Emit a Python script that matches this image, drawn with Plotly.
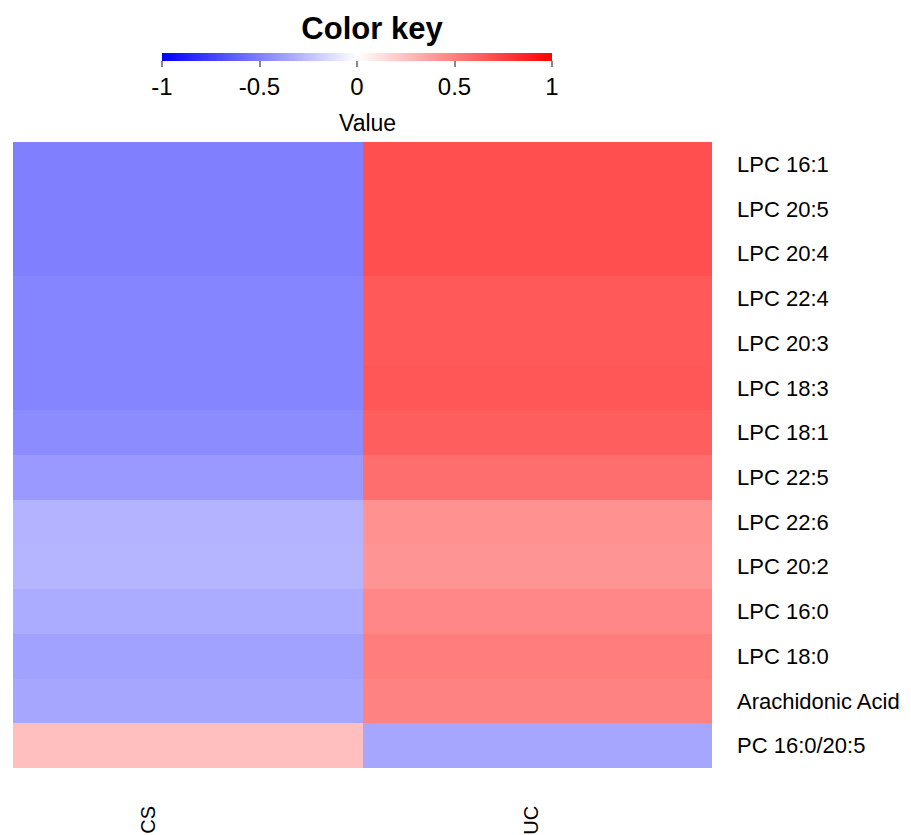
import plotly.graph_objects as go

rows = ["LPC 16:1", "LPC 20:5", "LPC 20:4", "LPC 22:4", "LPC 20:3", "LPC 18:3",
        "LPC 18:1", "LPC 22:5", "LPC 22:6", "LPC 20:2", "LPC 16:0", "LPC 18:0",
        "Arachidonic Acid", "PC 16:0/20:5"]
cols = ["CS", "UC"]
cs_vals = [-0.50, -0.50, -0.50, -0.48, -0.48, -0.48, -0.45, -0.40, -0.30, -0.29,
           -0.33, -0.37, -0.35, 0.25]
uc_vals = [0.69, 0.69, 0.69, 0.65, 0.65, 0.66, 0.63, 0.57, 0.43, 0.42,
           0.47, 0.51, 0.49, -0.35]
key_ticks = [-1, -0.5, 0, 0.5, 1]
key_labels = ["-1", "-0.5", "0", "0.5", "1"]

z = [[c, u] for c, u in zip(cs_vals, uc_vals)]

# page body adds an 8px margin around the figure
W, H = 903, 827
L, R, T, B = 5, 199, 134, 67
PW = W - L - R
FONT = "Liberation Sans, Arial, sans-serif"

fig = go.Figure(go.Heatmap(
    z=z, x=cols, y=rows,
    zmin=-1, zmax=1,
    colorscale=[[0, "rgb(0,0,255)"], [0.5, "rgb(255,255,255)"], [1, "rgb(255,0,0)"]],
    xgap=0, ygap=0,
    colorbar=dict(
        orientation="h",
        xref="container", yref="container",
        x=349 / PW, xanchor="center",
        y=1 - 45 / H, yanchor="top",
        len=390, lenmode="pixels",
        thickness=8,
        xpad=0, ypad=0,
        outlinewidth=0,
        tickvals=key_ticks, ticktext=key_labels,
        ticks="outside", ticklen=6, tickcolor="#888888", tickwidth=1.5,
        tickfont=dict(size=24, color="black", family=FONT),
    ),
    hoverinfo="skip",
))

# colour key axis title
fig.add_annotation(x=(359 - L) / PW, xref="paper", y=1, yref="paper", yshift=19,
                   xanchor="center", yanchor="middle", showarrow=False, text="Value",
                   font=dict(size=23, color="black", family=FONT))

col_shift = [-40, -7]
for c, s in zip(cols, col_shift):
    fig.add_annotation(x=c, xref="x", y=0, yref="paper", yanchor="top", xanchor="center",
                       yshift=-36, xshift=s, textangle=-90, showarrow=False, text=c,
                       font=dict(size=20, color="black", family=FONT))

fig.update_layout(
    width=W, height=H,
    margin=dict(l=L, r=R, t=T, b=B),
    paper_bgcolor="white", plot_bgcolor="white",
    font=dict(family=FONT, color="black"),
    title=dict(text="<b>Color key</b>", x=364 / W, xanchor="center",
               y=1 - 20 / H, yanchor="middle", xref="container", yref="container",
               font=dict(size=31, color="black", family=FONT)),
    xaxis=dict(showgrid=False, zeroline=False, showline=False, ticks="",
               showticklabels=False, automargin=False),
    yaxis=dict(showgrid=False, zeroline=False, showline=False, ticks="",
               side="right", autorange="reversed", tickfont=dict(size=22),
               ticklabelstandoff=24, automargin=False),
)

fig.write_html("out.html")
